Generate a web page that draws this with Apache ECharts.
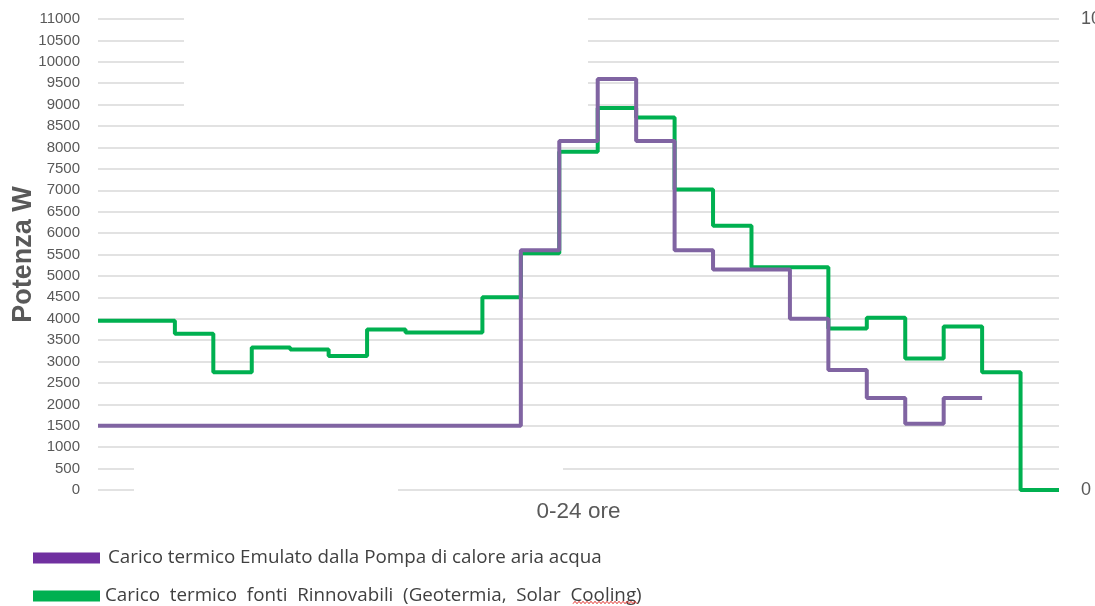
<!DOCTYPE html>
<html>
<head>
<meta charset="utf-8">
<script src="https://cdn.jsdelivr.net/npm/echarts@6/dist/echarts.min.js"></script>
<style>
html,body{margin:0;padding:0;background:#fff;}
#chart{width:1095px;height:606px;}
</style>
</head>
<body>
<div id="chart"></div>
<script>
// Hourly slots (0-24 ore), one value per slot
var seriesNames = [
  'Carico termico Emulato dalla Pompa di calore aria acqua',
  'Carico termico fonti Rinnovabili (Geotermia, Solar Cooling)'
];
var pompaValues = [1500,1500,1500,1500,1500,1500,1500,1500,1500,1500,1500,
                   5600,8150,9600,8150,5600,5150,5150,4000,2800,2150,1550,2150];
var rinnovabiliValues = [3950,3950,3650,2750,3330,3280,3130,3750,3680,3680,4500,
                         5530,7900,8920,8700,7020,6170,5200,5200,3770,4020,3070,3820,2750,0];
var leftTicks = {min:0, max:11000, interval:500};
var rightTicks = {min:0, max:10, interval:10};
var xAxisName = '0-24 ore';
var yAxisName = 'Potenza W';

function toStepData(values){
  var d = values.map(function(v,i){ return [i, v]; });
  d.push([values.length, values[values.length-1]]);
  return d;
}

var chart = echarts.init(document.getElementById('chart'));
var labelColor = '#595959';

// squiggle under "Cooling" (spell-check mark)
var sq = [];
for (var i = 0; i <= 32; i++) { sq.push([573 + i*2, 602.5 + (i%2 ? -1.2 : 1.2)]); }

var legendBase = {orient:'vertical', left:28, itemWidth:67, itemHeight:11, icon:'rect',
  textStyle:{color:'#404040', fontSize:18.8, fontFamily:'Open Sans'},
  formatter:function(n){ return n === seriesNames[1] ? n.replace(/ /g,'  ') : n; }};

chart.setOption({
  animation:false,
  grid:{left:98, right:36, top:19, bottom:116, containLabel:false, outerBoundsMode:'none'},
  xAxis:{type:'value', min:0, max:25, name:xAxisName, nameLocation:'middle', nameGap:10,
    nameTextStyle:{color:labelColor, fontSize:22.5, fontFamily:'Liberation Sans', verticalAlign:'top'},
    axisLine:{show:false}, axisTick:{show:false}, axisLabel:{show:false}, splitLine:{show:false}},
  yAxis:[{type:'value', min:leftTicks.min, max:leftTicks.max, interval:leftTicks.interval,
    name:yAxisName, nameLocation:'middle', nameGap:61, nameRotate:90, nameMoveOverlap:false,
    nameTextStyle:{color:labelColor, fontSize:27, fontWeight:'bold', fontFamily:'Liberation Sans'},
    axisLine:{show:false}, axisTick:{show:false},
    axisLabel:{color:labelColor, fontSize:15, margin:18, fontFamily:'Liberation Sans',
      formatter:function(v){ return String(v); }},
    splitLine:{lineStyle:{color:'#D9D9D9', width:1.5}}},
   {type:'value', min:rightTicks.min, max:rightTicks.max, interval:rightTicks.interval, position:'right',
    axisLine:{show:false}, axisTick:{show:false}, splitLine:{show:false},
    axisLabel:{color:labelColor, fontSize:18, margin:22, fontFamily:'Liberation Sans',
      formatter:function(v){ return String(v); }}}],
  legend:[
    Object.assign({}, legendBase, {top:543.5,
      data:[{name:seriesNames[0], itemStyle:{color:'#7030A0'}, textStyle:{padding:[0,0,0,3]}}]}),
    Object.assign({}, legendBase, {top:581.5,
      data:[{name:seriesNames[1], itemStyle:{color:'#00B050'}, textStyle:{padding:[0,0,0,0]}}]})
  ],
  series:[
    {name:seriesNames[0], type:'line', step:'end', data:toStepData(pompaValues), showSymbol:false,
     color:'#8064A2', lineStyle:{color:'#8064A2', width:4}, z:3},
    {name:seriesNames[1], type:'line', step:'end', data:toStepData(rinnovabiliValues), showSymbol:false,
     color:'#00B050', lineStyle:{color:'#00B050', width:4}, z:2}
  ],
  graphic:[
    {type:'rect', shape:{x:184, y:12, width:404, height:100}, style:{fill:'#fff'}, z:1},
    {type:'rect', shape:{x:134, y:462, width:429, height:14}, style:{fill:'#fff'}, z:1},
    {type:'rect', shape:{x:134, y:484, width:264, height:12}, style:{fill:'#fff'}, z:1},
    {type:'polyline', shape:{points:sq}, style:{stroke:'#E0302A', lineWidth:1, fill:null}, z:5}
  ]
});
</script>
</body>
</html>
